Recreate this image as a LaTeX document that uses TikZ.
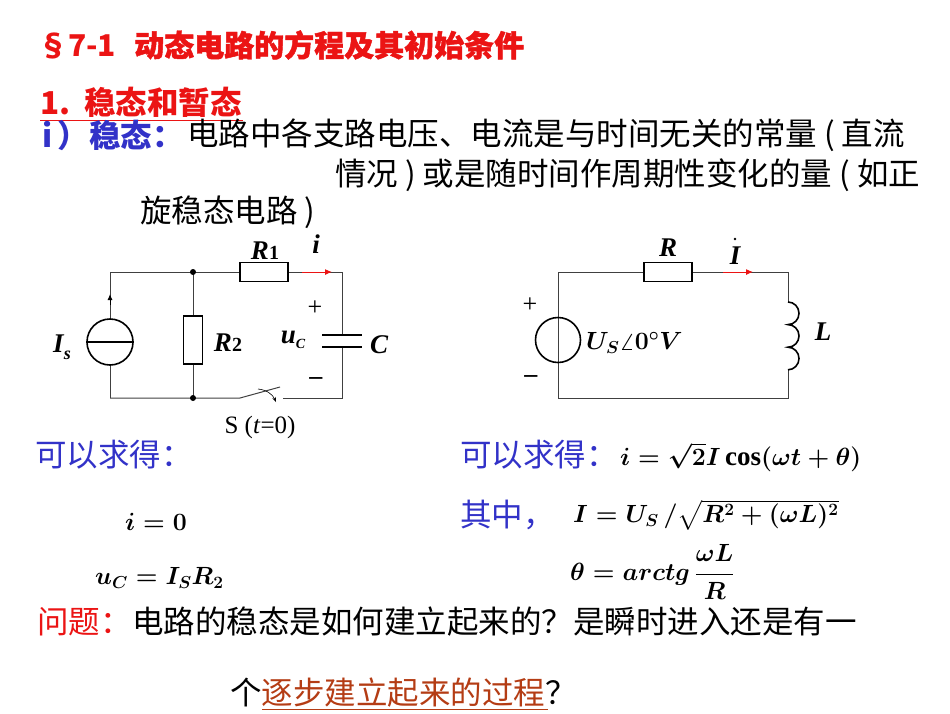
\documentclass[tikz,border=0pt]{standalone}
\usepackage{fontspec}
\usepackage{amsmath}
\setmainfont{Liberation Serif}
\newfontfamily\cjk{Noto Sans CJK SC}
\newfontfamily\cjkb[FakeBold=1.5]{Noto Sans CJK SC}
\usetikzlibrary{arrows.meta}
\definecolor{tred}{RGB}{235,20,20}
\definecolor{tblue}{RGB}{50,50,200}
\definecolor{ubrown}{RGB}{180,60,20}
\newcommand{\bm}[1]{{\mathversion{bold}$#1$}}
\begin{document}
\begin{tikzpicture}[x=1pt,y=-1pt,
  txt/.style={anchor=west,inner sep=0pt,font=\cjk\fontsize{31.5}{33}\selectfont},
  lab/.style={inner sep=0pt,font=\fontsize{27}{28}\selectfont\bfseries\itshape},
  eqn/.style={anchor=west,inner sep=0pt,font=\fontsize{27}{28}\selectfont},
  wire/.style={line width=1pt,draw=black!75},
  box/.style={draw,line width=1.6pt,fill=white},
  cur/.style={tred,line width=1pt,-{Latex[length=7pt,width=6pt]}},
  dot/.style={circle,fill,inner sep=0pt,minimum size=6pt}]
\useasboundingbox (0,0) rectangle (950,713);
% texts
\node[txt,tred] (t1) at (38,45) {\fontsize{30}{32}\selectfont\bfseries §7-1\hspace{18pt}\cjkb 动态电路的方程及其初始条件};
\node[txt,tred] (t2) at (40,102) {\bfseries 1.\hspace{14pt}\cjk 稳态和暂态};
\draw[tred,line width=1pt] (40,120) -- (243,120);
\node[txt,tblue] (t3) at (42,135) {\bfseries i\,）\cjk 稳态：};
\node[txt] (t4) at (187,135) {电路中各支路电压、电流是与时间无关的常量 ( 直流};
\node[txt] (t5) at (335,175) {情况 ) 或是随时间作周期性变化的量 ( 如正};
\node[txt] (t6) at (140,212) {旋稳态电路 )};
% circuit 1
\coordinate (a1) at (110,272); \coordinate (b1) at (193,272); \coordinate (c1) at (342,272);
\coordinate (a2) at (110,398); \coordinate (b2) at (193,398); \coordinate (c2) at (342,398);
\draw[wire] (a2) -- (a1) -- (c1) -- (342,335);
\draw[wire] (342,347) -- (c2) -- (283,398);
\draw[wire] (a2) -- (240,398) -- (280,387);
\draw[wire] (b1) -- (b2);
\draw[-{Stealth[length=5pt]},line width=0.6pt] (258,389) to[bend left=30] (276,402);
\node[dot] (d1) at (b1) {}; \node[dot] (d2) at (b2) {};
\node[circle,draw,line width=1.6pt,fill=white,minimum size=46pt,inner sep=0pt] (is) at (110,342) {};
\draw[line width=1.6pt] (is.west) -- (is.east);
\draw[-{Latex[length=6pt,width=5pt]},line width=1pt] (110,305) -- (110,294);
\node[box,minimum width=48pt,minimum height=19pt,inner sep=0pt] (r1) at (264,272) {};
\node[box,minimum width=19pt,minimum height=48pt,inner sep=0pt] (r2) at (193,340) {};
\draw[line width=2pt] (322,335) -- (362,335) (322,347) -- (362,347);
\coordinate (i1s) at (302,272); \coordinate (i1e) at (332,272);
\draw[cur] (i1s) -- (i1e);
\node[lab] (lr1) at (265,251) {R\textup{\fontsize{20}{20}\selectfont 1}};
\node[lab] (li) at (316,244) {i};
\node[lab] (lis) at (62,347) {I\raisebox{-7pt}{\fontsize{18}{18}\selectfont s}};
\node[lab] (lr2) at (228,343) {R\textup{\fontsize{20}{20}\selectfont 2}};
\node[inner sep=0pt,font=\fontsize{26}{26}\selectfont] (p1) at (315,308) {+};
\node[inner sep=0pt,font=\fontsize{26}{26}\selectfont] (m1) at (316,381) {\textbf{–}};
\node[lab] (luc) at (293,340) {u\raisebox{-5pt}{\fontsize{14}{14}\selectfont C}};
\node[lab] (lc) at (379,345) {C};
\node[inner sep=0pt,font=\fontsize{25}{26}\selectfont] (ls) at (260,427) {S (\textit{t}=0)};
% circuit 2
\coordinate (e1) at (558,272); \coordinate (f1) at (788,272);
\coordinate (e2) at (558,398); \coordinate (f2) at (788,398);
\draw[wire] (e2) -- (e1) -- (f1) -- (788,302);
\draw[wire] (788,370) -- (f2) -- (e2);
\node[circle,draw,line width=1.6pt,minimum size=45pt,inner sep=0pt] (us) at (558,340) {};
\node[box,minimum width=48pt,minimum height=19pt,inner sep=0pt] (rr) at (668,272) {};
\draw[line width=1.6pt] (788,302) arc[start angle=-90,end angle=90,x radius=11,y radius=11.3] arc[start angle=-90,end angle=90,x radius=11,y radius=11.3] arc[start angle=-90,end angle=90,x radius=11,y radius=11.3];
\draw[cur] (723,272) -- (753,272);
\node[lab] (lr) at (668,248) {R};
\node[lab] (lI) at (735,256) {I};
\fill (735,239) circle (1.3pt);
\node[lab] (lL) at (823,332) {L};
\node[inner sep=0pt,font=\fontsize{26}{26}\selectfont] (p2) at (530,305) {+};
\node[inner sep=0pt,font=\fontsize{26}{26}\selectfont] (m2) at (531,379) {\textbf{–}};
\node[eqn] (lus) at (586,343) {\bm{U_S\angle 0^{\circ}V}};
% results
\node[txt,tblue] (k1) at (35,455) {可以求得：};
\node[eqn] (eq1) at (125,522) {\bm{i=0}};
\node[eqn] (eq2) at (95,578) {\bm{u_C=I_S R_2}};
\node[txt,tblue] (k2) at (460,455) {可以求得：};
\node[eqn] (eq3) at (620,457) {\bm{i=\sqrt{2}I\cos(\omega t+\theta)}};
\node[txt,tblue] (k3) at (460,515) {其中，};
\node[eqn] (eq4) at (573,515) {\bm{I=U_S\,/\sqrt{R^2+(\omega L)^2}}};
\node[eqn] (eq5) at (570,572) {\bm{\theta=arctg\,\dfrac{\omega L}{R}}};
% question
\node[txt,tred] (q1) at (37,622) {问题：};
\node[txt] (q2) at (132,622) {电路的稳态是如何建立起来的？是瞬时进入还是有一};
\node[txt] (q3) at (230,693) {个\textcolor{ubrown}{逐步建立起来的过程}？};
\draw[ubrown,line width=1pt] (262,709) -- (548,709);
\end{tikzpicture}
\end{document}
